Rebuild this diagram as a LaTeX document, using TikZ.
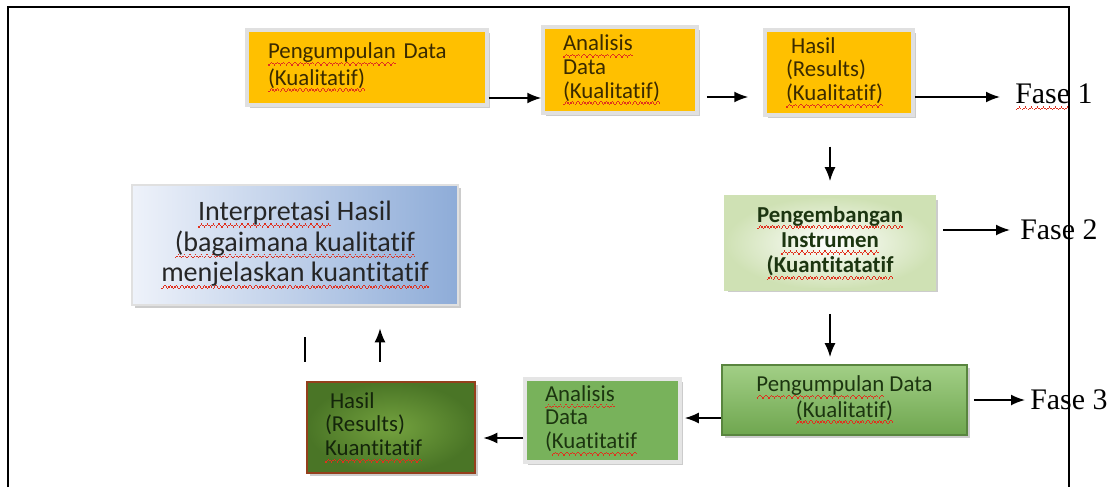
\documentclass[tikz,border=0pt]{standalone}
\usepackage{fontspec}
\setmainfont[Ligatures=NoCommon]{Carlito}
\newfontfamily\fasefont{Liberation Serif}
\usetikzlibrary{arrows.meta,shadows}

\definecolor{goldfill}{HTML}{FFC000}
\definecolor{goldtext}{HTML}{3A2A00}
\definecolor{leaftext}{HTML}{1C3510}
\definecolor{leafflat}{HTML}{78B25B}
\definecolor{leaftop}{HTML}{A2CF86}
\definecolor{leafbottom}{HTML}{6FA64F}
\definecolor{paleleaf}{HTML}{CFE1B4}
\definecolor{darkleafin}{HTML}{74A23F}
\definecolor{darkleafout}{HTML}{4A7526}
\definecolor{rustedge}{HTML}{94401C}
\definecolor{skyleft}{HTML}{EEF2FA}
\definecolor{skyright}{HTML}{8EACD8}
\definecolor{spellred}{HTML}{E0301E}

% red wavy underline of the spell checker
\newsavebox\squigbox
\newcommand\wavebit{\hbox{\rule[-4.0pt]{0.8pt}{0.75pt}\rule[-3.2pt]{0.8pt}{0.75pt}%
  \rule[-2.4pt]{0.8pt}{0.75pt}\rule[-3.2pt]{0.8pt}{0.75pt}}}
\newcommand\squig[1]{\leavevmode\sbox\squigbox{#1}%
  \rlap{\hbox to\wd\squigbox{\color{spellred}\xleaders\wavebit\hfil}}\usebox\squigbox}

\begin{document}
\begin{tikzpicture}[x=0.02cm, y=-0.02cm,
  every node/.style={font=\fontsize{13}{13.5}\selectfont},
  arr/.style={-{Latex[length=0.28cm,width=0.22cm]}, line width=1pt},
  framed/.style={drop shadow={shadow xshift=0.06cm, shadow yshift=-0.06cm, fill=black!40}},
  goldbox/.style={framed, draw=black!12, line width=2pt, fill=goldfill,
    text=goldtext, align=left},
  greenbox/.style={framed, draw=black!10, line width=2pt, fill=leafflat,
    text=leaftext, align=left},
  fase/.style={anchor=west, inner sep=0pt, font=\fasefont\fontsize{17}{20}\selectfont}]

  % Fix the size of the picture
  \useasboundingbox (0,0) rectangle (1111,487);

  % Phase 1: the three gold boxes on the top row
  \node[goldbox, text width=3.96cm, inner xsep=0.42cm, minimum height=1.5cm,
    font=\fontsize{13}{15}\selectfont] (collectA) at (367,67.5)
    {\squig{Pengumpulan} Data\\\squig{(Kualitatif)}\\[0.25cm]};
  \node[goldbox, text width=2.28cm, inner xsep=0.4cm, minimum height=1.72cm] (analyseA) at (620,70)
    {\squig{Analisis}\\Data\\\squig{(Kualitatif)}};
  \node[goldbox, text width=2.12cm, inner xsep=0.42cm, minimum height=1.7cm] (resultA) at (839,72.5)
    {\hspace{0.1cm}Hasil\\(Results)\\\squig{(Kualitatif)}};

  % Phase 2: instrument development
  \node[framed, draw=paleleaf, line width=1.5pt, inner color=white, outer color=paleleaf,
    text=leaftext, align=center, minimum width=4.2cm, minimum height=1.86cm,
    font=\bfseries\fontsize{13}{14.5}\selectfont] (instrument) at (830,243)
    {\squig{Pengembangan}\\\squig{Instrumen}\\\squig{(Kuantitatatif}};

  % Phase 3: the green boxes on the bottom row
  \node[framed, draw=leafbottom!80!black, line width=1pt, top color=leaftop, bottom color=leafbottom,
    text=leaftext, align=center, minimum width=4.9cm, minimum height=1.4cm,
    font=\fontsize{13}{14.5}\selectfont] (collectB) at (844.5,400)
    {\squig{Pengumpulan} Data\\\squig{(Kualitatif)}};
  \node[greenbox, text width=2.3cm, inner xsep=0.4cm, minimum height=1.66cm] (analyseB) at (602.5,420.5)
    {\squig{Analisis}\\Data\\(\squig{Kuatitatif}};
  \node[framed, draw=rustedge, line width=1.5pt, inner color=darkleafin, outer color=darkleafout,
    text=leaftext!70!black, align=left, text width=2.64cm, inner xsep=0.36cm,
    minimum height=1.82cm] (resultB) at (391,427.5)
    {\hspace{0.1cm}Hasil\\(Results)\\\squig{Kuantitatif}};

  % Interpretation box
  \node[framed, draw=black!12, line width=1.5pt, left color=skyleft, right color=skyright,
    text=black!85, align=center, minimum width=6.52cm, minimum height=2.4cm,
    font=\fontsize{16}{17.5}\selectfont] (interpret) at (295,245)
    {\squig{Interpretasi} Hasil\\\squig{(bagaimana kualitatif}\\\squig{menjelaskan kuantitatif}};

  % Phase labels
  \node[fase] (phaseA) at (1015,97) {\squig{Fase} 1};
  \node[fase] (phaseB) at (1020,230) {Fase 2};
  \node[fase] (phaseC) at (1030,400) {Fase 3};

  % Arrows of the top row
  \draw[arr] ([yshift=-0.61cm]collectA.east) -- ([yshift=-0.61cm]collectA.east -| analyseA.west);
  \draw[arr, shorten <=0.16cm, shorten >=0.3cm] ([yshift=-0.54cm]analyseA.east)
    -- ([yshift=-0.54cm]analyseA.east -| resultA.west);
  \draw[arr, shorten >=0.3cm] (resultA.east |- phaseA.west) -- (phaseA.west);

  % Arrows down the right side
  \draw[arr, shorten <=0.6cm, shorten >=0.28cm] (resultA.south -| instrument.north) -- (instrument.north);
  \draw[arr, shorten <=0.14cm, shorten >=0.2cm] (instrument.east |- phaseB.west) -- (phaseB.west);
  \draw[arr, shorten <=0.46cm, shorten >=0.14cm] (instrument.south) -- (instrument.south |- collectB.north);
  \draw[arr, shorten <=0.12cm, shorten >=0.1cm] (collectB.east |- phaseC.west) -- (phaseC.west);

  % Arrows of the bottom row
  \draw[arr, shorten >=0.06cm] ([yshift=-0.36cm]collectB.west) -- ([yshift=-0.36cm]collectB.west -| analyseB.east);
  \draw[arr, shorten >=0.14cm] ([yshift=-0.35cm]analyseB.west) -- ([yshift=-0.35cm]analyseB.west -| resultB.east);
  \draw[arr, shorten <=0.38cm, shorten >=0.44cm] ([xshift=-0.22cm]resultB.north)
    -- ([xshift=-0.22cm]resultB.north |- interpret.south);

  % Stray stroke left of the up arrow
  \draw[line width=0.8pt] (305,337) -- (305,362);

  % Outer frame, open at the bottom
  \draw[line width=1.2pt] (8,487) -- (8,7) -- (1069,7) -- (1069,487);

\end{tikzpicture}
\end{document}
